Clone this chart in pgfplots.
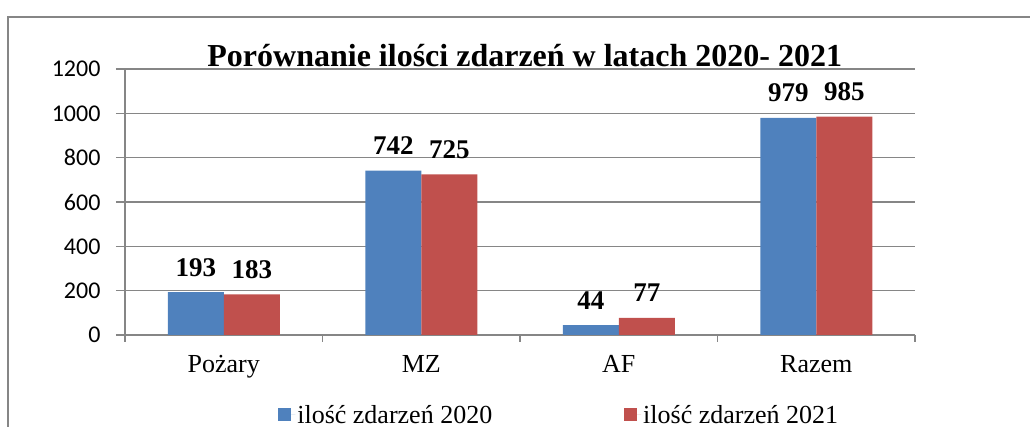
\documentclass[border=0pt]{standalone}
\usepackage{fontspec}
\setmainfont{Liberation Serif}
\newfontfamily\carlito{Carlito}
\usepackage{pgfplots}
\pgfplotsset{compat=1.18}
\definecolor{s2020}{HTML}{4F81BD}
\definecolor{s2021}{HTML}{C0504D}
\definecolor{linegray}{HTML}{868686}
\begin{document}
\begin{tikzpicture}
\useasboundingbox (0pt,0pt) rectangle (1030pt,427pt);
% chart frame, cut off at the right and bottom
\draw[linegray,line width=1.5pt] (8pt,-10pt) -- (8pt,410pt) -- (1040pt,410pt);
\begin{axis}[at={(125pt,92pt)},anchor=south west,scale only axis,width=790pt,height=266pt,
  xmin=-0.5,xmax=3.5,ymin=0,ymax=1200,ytick={0,200,...,1200},
  xtick={0,1,2,3},xticklabels={Pożary,MZ,AF,Razem},
  minor xtick={-0.5,0.5,1.5,2.5,3.5},
  axis lines*=left,tick align=outside,
  major tick length=9pt,minor tick length=7pt,
  major x tick style={draw=none},
  tick style={linegray,line width=1.5pt},
  axis line style={linegray,line width=1.5pt},
  ymajorgrids,grid style={linegray,line width=1.5pt},
  ybar=0pt,bar width=56pt,
  /pgf/number format/assume math mode=true,
  y tick label style={/pgf/number format/1000 sep={}},
  yticklabel style={font=\carlito\fontsize{24}{24}\selectfont,xshift=-12pt},
  xticklabel style={font=\fontsize{26}{26}\selectfont,yshift=-8pt},
  title={Porównanie ilości zdarzeń w latach 2020- 2021},
  title style={at={(axis description cs:0.506,1)},anchor=base,yshift=-4pt,font=\bfseries\fontsize{32}{32}\selectfont},
  nodes near coords,
  every node near coord/.append style={font=\bfseries\fontsize{27}{27}\selectfont,anchor=base,yshift=16pt,text=black},
  legend columns=2,
  legend style={at={(axis description cs:0.19,-0.30)},anchor=west,draw=none,font=\fontsize{26}{26}\selectfont,
    /tikz/every even column/.append style={column sep=130pt}},
  legend image code/.code={\fill[#1] (0pt,-6.5pt) rectangle (13pt,6.5pt);\path (0pt,0pt) -- (17pt,0pt);}]
\addplot[fill=s2020,draw=none] coordinates {(0,193) (1,742) (2,44) (3,979)};
\addplot[fill=s2021,draw=none] coordinates {(0,183) (1,725) (2,77) (3,985)};
\legend{ilość zdarzeń 2020,ilość zdarzeń 2021}
\end{axis}
\end{tikzpicture}
\end{document}
